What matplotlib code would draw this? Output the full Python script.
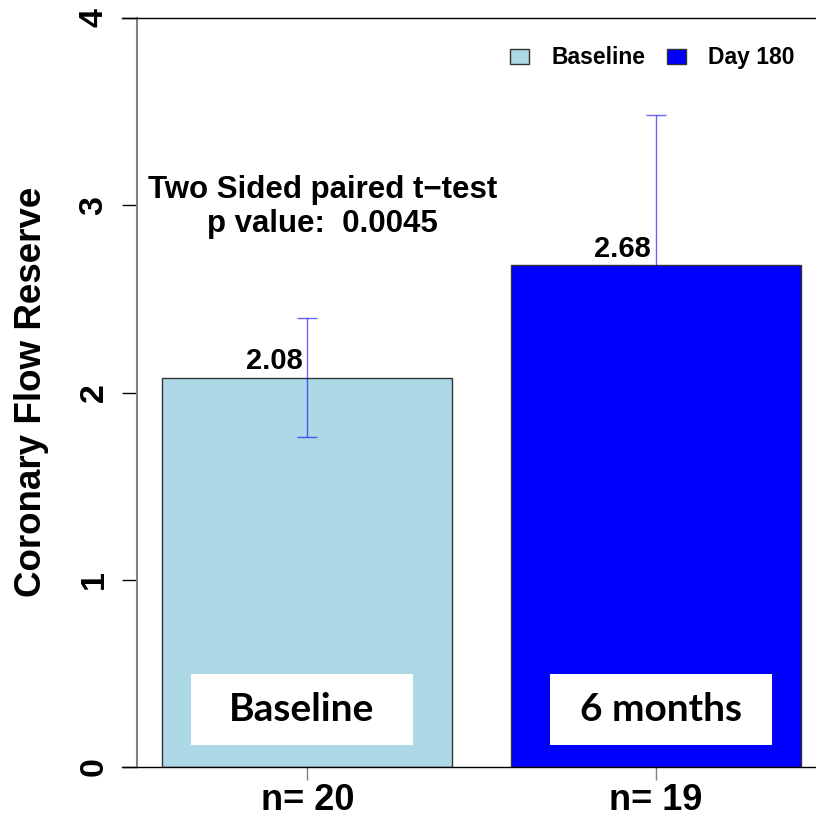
import matplotlib.pyplot as plt
from matplotlib.patches import Rectangle

# Coronary flow reserve, baseline vs day 180
groups = ['Baseline', 'Day 180']
box_labels = ['Baseline', '6 months']
n_labels = ['n= 20', 'n= 19']
cfr_mean = [2.08, 2.68]
cfr_err = [0.32, 0.80]
bar_colors = ['lightblue', 'blue']
p_value = 0.0045

plt.rcParams['font.family'] = ['Liberation Sans', 'DejaVu Sans']
plt.rcParams['font.weight'] = 'bold'

fig = plt.figure(figsize=(8.16, 8.25), dpi=100)
ax = fig.add_axes([137 / 816, 1 - 767 / 825, 679 / 816, 749 / 825])

x = [0, 1]
bars = ax.bar(x, cfr_mean, width=0.832, color=bar_colors,
              edgecolor='#333333', linewidth=1, zorder=2)
ax.errorbar(x, cfr_mean, yerr=cfr_err, fmt='none', ecolor='blue', alpha=0.6,
            elinewidth=1, capsize=7.2, capthick=1, zorder=3)

for xi, m in zip(x, cfr_mean):
    ax.annotate(f'{m:.2f}', (xi, m), xytext=(-3.6, 5.8), textcoords='offset points',
                ha='right', va='baseline', fontsize=21, fontweight='bold')

ax.text(0.043, 2.99, f'Two Sided paired t\u2212test\np value:  {p_value}',
        ha='center', va='center', fontsize=22.5, fontweight='bold', linespacing=1.2)

# white label boxes inside the bars
box_offsets = [-0.016, 0.013]
for xi, off, lab in zip(x, box_offsets, box_labels):
    ax.add_patch(Rectangle((xi + off - 0.3185, 0.1175), 0.637, 0.379,
                           facecolor='white', edgecolor='none', zorder=3))
    ax.text(xi + off, 0.305, lab, family=['Lato', 'DejaVu Sans'], fontsize=28,
            fontweight='bold', ha='center', va='center', zorder=4)

ax.set_xlim(-0.489, 1.459)
ax.set_ylim(0, 4)
for s in ['top', 'right', 'bottom']:
    ax.spines[s].set_visible(False)
ax.spines['left'].set_color('#808080')
ax.spines['left'].set_linewidth(1.5)
for yv in [0, 4]:
    ax.axhline(yv, xmin=-15 / 679, xmax=1, color='black', lw=1, clip_on=False, zorder=5)

ax.set_yticks([0, 1, 2, 3, 4])
ax.tick_params(axis='y', length=10.8, width=1, color='black', pad=9, labelsize=24.5)
for lab in ax.get_yticklabels():
    lab.set_rotation(90)
    lab.set_va('center')

ax.set_xticks(x, n_labels)
ax.tick_params(axis='x', length=9.4, width=1, color='#808080', pad=2, labelsize=26)

fig.text(32 / 816, 1 - 392 / 825, 'Coronary Flow Reserve', rotation=90,
         ha='center', va='center', fontsize=26.5, fontweight='bold')

ax.legend(bars.patches, groups, loc='center right', bbox_to_anchor=(0.969, 0.9466),
          ncol=2, frameon=False, fontsize=16.5, borderpad=0, borderaxespad=0,
          handlelength=0.83, handleheight=0.65, handletextpad=0.96, columnspacing=0.97)

fig.savefig('out.png', dpi=100)
